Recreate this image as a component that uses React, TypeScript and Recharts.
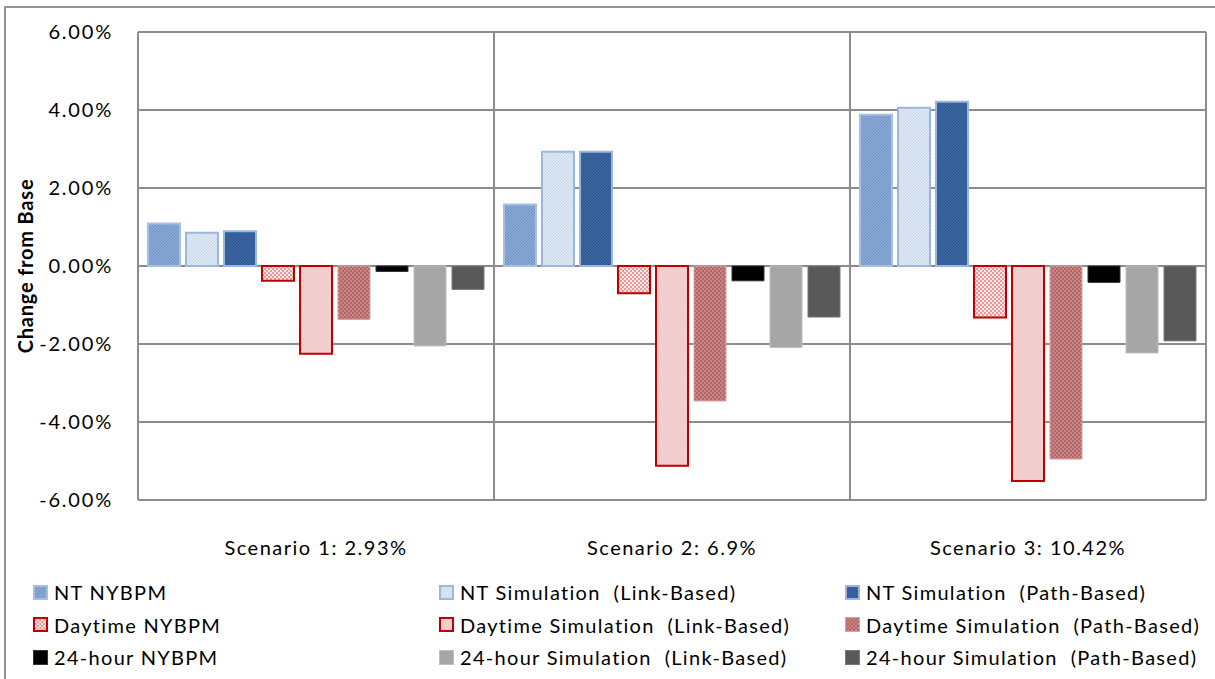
import { Bar, BarChart, CartesianGrid, XAxis, YAxis } from "recharts";

const categories = ["Scenario 1: 2.93%", "Scenario 2: 6.9%", "Scenario 3: 10.42%"];
const ntNybpm = [1.09, 1.58, 3.88];
const ntLink = [0.85, 2.93, 4.06];
const ntPath = [0.89, 2.93, 4.21];
const dayNybpm = [-0.38, -0.7, -1.32];
const dayLink = [-2.25, -5.12, -5.51];
const dayPath = [-1.37, -3.46, -4.95];
const allNybpm = [-0.14, -0.38, -0.42];
const allLink = [-2.05, -2.09, -2.23];
const allPath = [-0.6, -1.31, -1.92];
const yTicks = [-6, -4, -2, 0, 2, 4, 6];

const series = [
  { key: "ntNybpm", name: "NT NYBPM", values: ntNybpm, fill: "url(#pNtNybpm)", stroke: "#a7bfe0", sw: 2 },
  { key: "ntLink", name: "NT Simulation  (Link-Based)", values: ntLink, fill: "url(#pNtLink)", stroke: "#9bb7dc", sw: 2 },
  { key: "ntPath", name: "NT Simulation  (Path-Based)", values: ntPath, fill: "url(#pNtPath)", stroke: "#9bb7dc", sw: 2 },
  { key: "dayNybpm", name: "Daytime NYBPM", values: dayNybpm, fill: "url(#pDayNybpm)", stroke: "#c00000", sw: 2 },
  { key: "dayLink", name: "Daytime Simulation  (Link-Based)", values: dayLink, fill: "url(#pDayLink)", stroke: "#c00000", sw: 2 },
  { key: "dayPath", name: "Daytime Simulation  (Path-Based)", values: dayPath, fill: "url(#pDayPath)", stroke: "#d9a3a3", sw: 1 },
  { key: "allNybpm", name: "24-hour NYBPM", values: allNybpm, fill: "#000000", stroke: "#333333", sw: 1 },
  { key: "allLink", name: "24-hour Simulation  (Link-Based)", values: allLink, fill: "#a6a6a6", stroke: "#bfbfbf", sw: 1 },
  { key: "allPath", name: "24-hour Simulation  (Path-Based)", values: allPath, fill: "#595959", stroke: "#7a7a7a", sw: 1 },
];

const data = categories.map((name, i) => {
  const row: Record<string, string | number> = { name };
  series.forEach((s) => {
    row[s.key] = s.values[i];
  });
  return row;
});

const FONT = "Lato, 'Open Sans', sans-serif";

function CategoryTick(props: any) {
  const { x, y, payload } = props;
  return (
    <text
      x={x}
      y={y + 55}
      textAnchor="middle"
      fill="#000"
      fontSize={20}
      letterSpacing={1.5}
      fontFamily={FONT}
    >
      {payload.value}
    </text>
  );
}

function YTitle(props: any) {
  const { viewBox } = props;
  const cx = 25;
  const cy = viewBox.y + viewBox.height / 2;
  return (
    <text
      x={cx}
      y={cy}
      transform={`rotate(-90 ${cx} ${cy})`}
      textAnchor="middle"
      dominantBaseline="central"
      fontSize={20}
      letterSpacing={0.8}
      fontWeight="bold"
      fontFamily={FONT}
      fill="#000"
    >
      Change from Base
    </text>
  );
}

function Swatch({ fill, stroke, sw }: { fill: string; stroke: string; sw: number }) {
  return (
    <svg width={15} height={15} style={{ display: "block" }}>
      <rect x={sw / 2} y={sw / 2} width={15 - sw} height={15 - sw} fill={fill} stroke={stroke} strokeWidth={sw} />
    </svg>
  );
}

export default function App() {
  return (
    <div
      style={{
        position: "absolute",
        left: 0,
        top: 0,
        width: 1215,
        height: 679,
        background: "#fff",
        overflow: "hidden",
        fontFamily: FONT,
      }}
    >
      <div
        style={{
          position: "absolute",
          left: 4,
          top: 6,
          width: 1230,
          height: 700,
          borderLeft: "2px solid #949494",
          borderTop: "2px solid #949494",
        }}
      />
      <div style={{ position: "absolute", left: 0, top: 0 }}>
        <BarChart
          width={1215}
          height={570}
          data={data}
          margin={{ top: 32, right: 9, left: 8, bottom: 0 }}
          barCategoryGap={10}
          barGap={6}
        >
          <defs>
            <pattern id="pNtNybpm" patternUnits="userSpaceOnUse" width={3} height={3}>
              <rect width={3} height={3} fill="#8aa8d4" />
              <path d="M0,3 L3,0 M-1,1 L1,-1 M2,4 L4,2" stroke="#7193c5" strokeWidth={1} />
            </pattern>
            <pattern id="pNtLink" patternUnits="userSpaceOnUse" width={3} height={3}>
              <rect width={3} height={3} fill="#e0e9f4" />
              <path d="M0,3 L3,0 M-1,1 L1,-1 M2,4 L4,2" stroke="#c3d4ea" strokeWidth={1} />
            </pattern>
            <pattern id="pNtPath" patternUnits="userSpaceOnUse" width={3} height={3}>
              <rect width={3} height={3} fill="#3b66a1" />
              <path d="M0,3 L3,0 M-1,1 L1,-1 M2,4 L4,2" stroke="#2a548e" strokeWidth={1} />
            </pattern>
            <pattern id="pDayNybpm" patternUnits="userSpaceOnUse" width={4} height={4}>
              <rect width={4} height={4} fill="#fbe6e6" />
              <rect x={0} y={0} width={2} height={2} fill="#e89a9a" />
              <rect x={2} y={2} width={2} height={2} fill="#e89a9a" />
            </pattern>
            <pattern id="pDayLink" patternUnits="userSpaceOnUse" width={3} height={3}>
              <rect width={3} height={3} fill="#f4d3d3" />
              <path d="M0,3 L3,0 M-1,1 L1,-1 M2,4 L4,2" stroke="#edc2c2" strokeWidth={1} />
            </pattern>
            <pattern id="pDayPath" patternUnits="userSpaceOnUse" width={4} height={4}>
              <rect width={4} height={4} fill="#c98686" />
              <rect x={0} y={0} width={2} height={2} fill="#b26666" />
              <rect x={2} y={2} width={2} height={2} fill="#b26666" />
            </pattern>
          </defs>
          <CartesianGrid
            stroke="#8c8c8c"
            strokeWidth={2}
            verticalCoordinatesGenerator={({ offset }: any) =>
              categories.map((_, i) => offset.left + (i * offset.width) / categories.length).concat(offset.left + offset.width)
            }
          />
          <XAxis
            dataKey="name"
            height={70}
            axisLine={false}
            tickLine={false}
            tickSize={0}
            tickMargin={0}
            tick={<CategoryTick />}
            interval={0}
          />
          <YAxis
            width={130}
            domain={[-6, 6]}
            ticks={yTicks}
            interval={0}
            axisLine={{ stroke: "#8c8c8c", strokeWidth: 2 }}
            tickLine={false}
            tickMargin={19}
            tickFormatter={(v: number) => `${v.toFixed(2)}%`}
            tick={{ fill: "#000", fontSize: 20, fontFamily: FONT, letterSpacing: 1.8 }}
            label={<YTitle />}
          />
          {series.map((s) => (
            <Bar
              key={s.key}
              dataKey={s.key}
              name={s.name}
              fill={s.fill}
              stroke={s.stroke}
              strokeWidth={s.sw}
              isAnimationActive={false}
            />
          ))}
        </BarChart>
      </div>
      <div
        style={{
          position: "absolute",
          left: 33,
          top: 576,
          display: "grid",
          gridTemplateColumns: "406px 406px 380px",
          gridAutoRows: "32.5px",
        }}
      >
        {series.map((s) => (
          <div key={s.key} style={{ display: "flex", alignItems: "center", gap: 6 }}>
            <Swatch fill={s.fill} stroke={s.stroke} sw={s.sw} />
            <span style={{ fontSize: 20, letterSpacing: 1.3, color: "#000", whiteSpace: "pre" }}>{s.name}</span>
          </div>
        ))}
      </div>
    </div>
  );
}
